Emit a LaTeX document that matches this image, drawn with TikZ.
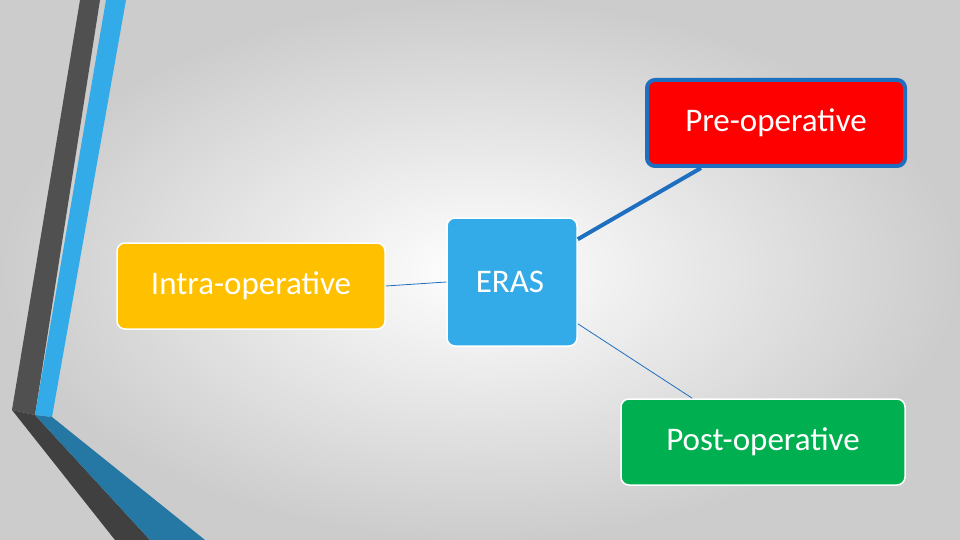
\documentclass[tikz,border=0pt]{standalone}
\usepackage{fontspec}
\setmainfont{Carlito}
\definecolor{erasblue}{HTML}{33ABE9}
\definecolor{preblue}{HTML}{1F6FC0}
\definecolor{intrayellow}{HTML}{FFC000}
\definecolor{postgreen}{HTML}{00B050}
\definecolor{stripegray}{HTML}{505050}
\tikzset{
  topic/.style={rounded corners=8pt, text=white, font=\fontsize{33}{36}\selectfont, draw=white, line width=1.5pt},
  link/.style={draw=preblue, line width=0.8pt}
}
\begin{document}
\begin{tikzpicture}[x=1pt,y=-1pt]
% Hintergrund
\shade[inner color=white, outer color=black!20] (0,0) rectangle (960,540);
\useasboundingbox (0,0) rectangle (960,540);
% Streifen links
\fill[stripegray] (80,0) -- (100,0) -- (35,415) -- (12,410) -- cycle;
\fill[erasblue] (106,0) -- (126,0) -- (52,417) -- (35,415) -- cycle;
\fill[stripegray!80!black] (12,410) -- (35,415) -- (150,540) -- (115,540) -- cycle;
\fill[erasblue!70!black] (35,415) -- (52,417) -- (205,540) -- (150,540) -- cycle;
% Knoten
\node[topic, fill=red, draw=preblue, line width=4pt, minimum width=258pt, minimum height=86pt] (pre) at (776,123) {Pre-operative};
\node[topic, fill=erasblue, minimum width=130pt, minimum height=128pt] (eras) at (512,282) {};
\node[text=white, font=\fontsize{33}{36}\selectfont] (erastext) at (510,282) {ERAS};
\node[topic, fill=intrayellow, minimum width=268pt, minimum height=86pt] (intra) at (251,286) {Intra-operative};
\node[topic, fill=postgreen, minimum width=284pt, minimum height=86pt] (post) at (763,442) {Post-operative};
% Verbindungen
\draw[link, line width=4pt] ([yshift=-22pt]eras.north east) -- ([xshift=56pt]pre.south west);
\draw[link] (intra.east) -- (eras.west);
\draw[link] ([yshift=23pt]eras.south east) -- ([xshift=72pt]post.north west);
\end{tikzpicture}
\end{document}
